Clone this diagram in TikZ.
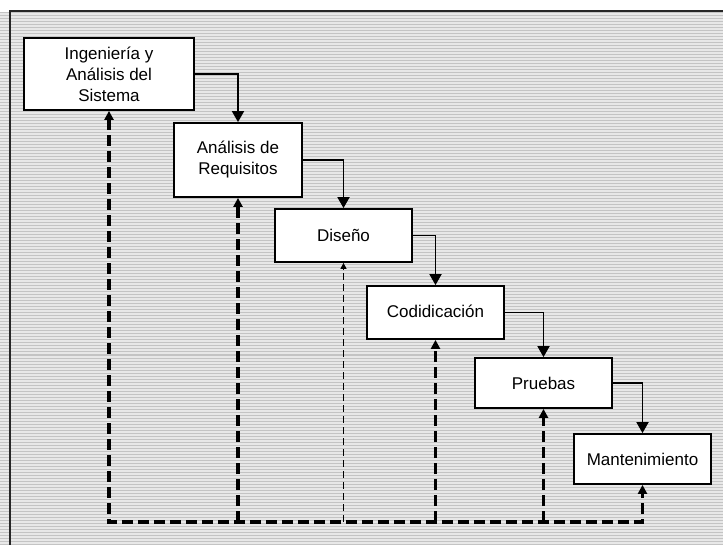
\documentclass[tikz,border=0pt]{standalone}
\usepackage{fontspec}
\setmainfont{Liberation Sans}
\usetikzlibrary{arrows.meta,calc}
\definecolor{bgtint}{RGB}{232,232,232}
\definecolor{stripecol}{RGB}{196,196,196}
\tikzset{
  box/.style={draw=black, line width=1.8pt, fill=white, inner sep=0pt, align=center,
    font=\fontsize{17}{21}\selectfont},
  flow/.style={draw=black, line width=1.8pt, -{Triangle[width=12pt,length=11pt]}},
  dline/.style={draw=black, line width=3.2pt, dash pattern=on 11pt off 5pt},
  dtip/.style={-{Triangle[width=9pt,length=9pt]}},
  thindline/.style={draw=black, line width=1.2pt, dash pattern=on 7pt off 4pt,
    -{Triangle[width=6pt,length=6pt]}},
  stripe/.style={draw=stripecol, line width=1pt},
  frame/.style={draw=black!85, line width=1.8pt}
}
\begin{document}
\begin{tikzpicture}[x=1pt,y=-1pt]
\useasboundingbox (0,0) rectangle (723,545);
% striped background
\fill[bgtint] (0,12) rectangle (723,545);
\foreach \yy in {13,16,...,545} {
  \draw[stripe] (0,\yy) -- (723,\yy);
}
% frame (top and left edges)
\coordinate (ftop) at (10,11);
\coordinate (fright) at (723,11);
\coordinate (fbot) at (10,545);
\draw[frame] (fright) -- (ftop) -- (fbot);
% boxes
\node[box, minimum width=170pt, minimum height=72pt] (b1) at (109,74) {Ingeniería y\\Análisis del\\Sistema};
\node[box, minimum width=128pt, minimum height=74pt] (b2) at (238,160) {Análisis de\\Requisitos};
\node[box, minimum width=137pt, minimum height=53pt] (b3) at (343.5,235.5) {Diseño};
\node[box, minimum width=137pt, minimum height=53pt] (b4) at (435.5,312.5) {\raisebox{2pt}{Codidicación}};
\node[box, minimum width=137pt, minimum height=50pt] (b5) at (543.5,383) {Pruebas};
\node[box, minimum width=137pt, minimum height=50pt] (b6) at (642.5,459) {Mantenimiento};
% forward arrows
\draw[flow] (b1.east) -| (b2.north);
\draw[flow] (b2.east) -| (b3.north);
\draw[flow] (b3.east) -| (b4.north);
\draw[flow] (b4.east) -| (b5.north);
\draw[flow] (b5.east) -| (b6.north);
% feedback lines
\coordinate (base) at (0,522);
\draw[dline, {Triangle[width=9pt,length=9pt]}-{Triangle[width=9pt,length=9pt]}]
  (b1.south) -- (b1.south |- base) -- (b6.south |- base) -- (b6.south);
\draw[dline, dtip] (b2.south |- base) -- (b2.south);
\draw[thindline] (b3.south |- base) -- (b3.south);
\draw[dline, dtip] (b4.south |- base) -- (b4.south);
\draw[dline, dtip] (b5.south |- base) -- (b5.south);
\end{tikzpicture}
\end{document}
